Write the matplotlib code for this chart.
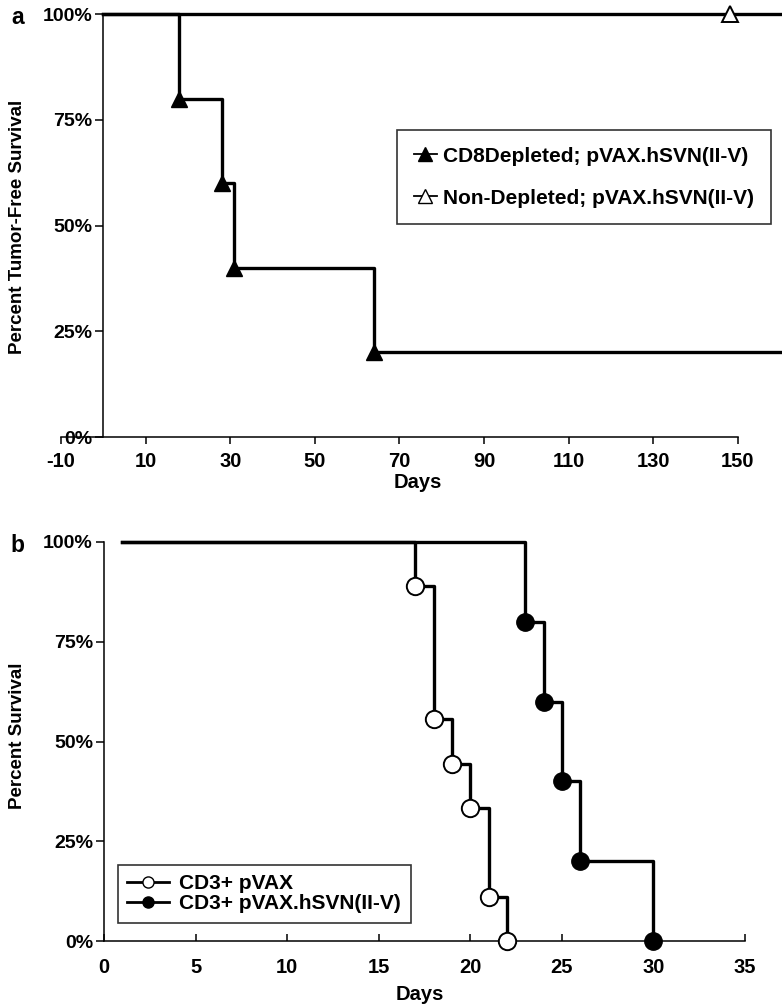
import numpy as np
import matplotlib.pyplot as plt

plt.rcParams['font.family'] = ['Liberation Sans', 'DejaVu Sans']
plt.rcParams['font.weight'] = 'bold'
plt.rcParams['axes.unicode_minus'] = False

# panel a: tumor-free survival
a_days_cd8 = [0, 18, 28, 31, 64, 160]
a_surv_cd8 = [1.0, 0.8, 0.6, 0.4, 0.2, 0.2]
a_mark_cd8 = [18, 28, 31, 64]
a_markv_cd8 = [0.8, 0.6, 0.4, 0.2]
a_days_non = [0, 160]
a_surv_non = [1.0, 1.0]
a_mark_non = [148]
a_markv_non = [1.0]
a_xticks = [-10, 10, 30, 50, 70, 90, 110, 130, 150]

# panel b: survival
b_days_vax = [1, 17, 18, 19, 20, 21, 22]
b_surv_vax = [1.0, 8/9, 5/9, 4/9, 3/9, 1/9, 0.0]
b_days_svn = [1, 23, 24, 25, 26, 30]
b_surv_svn = [1.0, 0.8, 0.6, 0.4, 0.2, 0.0]
b_xticks = [0, 5, 10, 15, 20, 25, 30, 35]

yticks = [0, 0.25, 0.5, 0.75, 1.0]
ylabels = ['0%', '25%', '50%', '75%', '100%']

W, H = 782, 1006
fig = plt.figure(figsize=(W/100, H/100), dpi=100)

lw = 2.4
fs = 14.5

# ---- panel a
ax1 = fig.add_axes([61/W, (H-437)/H, 721/W, 423/H])
ax1.set_xlim(-10, 160.4)
ax1.set_ylim(0, 1)
ax1.step(a_days_non, a_surv_non, where='post', color='black', lw=lw, clip_on=False)
ax1.step(a_days_cd8, a_surv_cd8, where='post', color='black', lw=lw, clip_on=False)
ax1.plot(a_mark_cd8, a_markv_cd8, '^', color='black', ms=12, clip_on=False, zorder=5)
ax1.plot(a_mark_non, a_markv_non, '^', mfc='white', mec='black', mew=1.4, ms=12, clip_on=False, zorder=5)
ax1.spines['top'].set_visible(False)
ax1.spines['right'].set_visible(False)
ax1.spines['left'].set_position(('data', 0))
ax1.spines['bottom'].set_bounds(-10, 150)
ax1.set_xticks(a_xticks)
ax1.set_yticks(yticks)
ax1.set_yticklabels(ylabels)
ax1.tick_params(axis='x', direction='out', length=5, width=1.1, labelsize=fs, pad=6)
ax1.tick_params(axis='y', direction='out', length=6, width=1.1, labelsize=14, pad=2)
for s in ['left', 'bottom']:
    ax1.spines[s].set_linewidth(1.1)
fig.text(418/W, 1-482/H, 'Days', ha='center', va='center', fontsize=fs, fontweight='bold')
fig.text(18/W, 1-227/H, 'Percent Tumor-Free Survival', rotation=90, ha='center', va='center', fontsize=13.5, fontweight='bold')
fig.text(18/W, 1-18/H, 'a', ha='center', va='center', fontsize=16.5, fontweight='bold')

h1, = ax1.plot([], [], '-^', color='black', lw=1.3, ms=10)
h2, = ax1.plot([], [], '-^', color='black', mfc='white', mec='black', lw=1.3, ms=10)
leg1 = ax1.legend([h1, h2], ['CD8Depleted; pVAX.hSVN(II-V)', 'Non-Depleted; pVAX.hSVN(II-V)'],
                  loc='upper left', bbox_to_anchor=((397-61)/721, 1-(130-14)/423),
                  fontsize=15, handlelength=1.1, handletextpad=0.3, labelspacing=1.1,
                  borderpad=0.8, borderaxespad=0, fancybox=False, frameon=True)
leg1.get_frame().set_edgecolor('black')
leg1.get_frame().set_linewidth(1.2)

# ---- panel b
ax2 = fig.add_axes([104/W, (H-941)/H, 641/W, 399/H])
ax2.set_xlim(0, 35)
ax2.set_ylim(0, 1)
ax2.step(b_days_vax, b_surv_vax, where='post', color='black', lw=lw, clip_on=False)
ax2.step(b_days_svn, b_surv_svn, where='post', color='black', lw=lw, clip_on=False)
ax2.plot(b_days_vax[1:], b_surv_vax[1:], 'o', mfc='white', mec='black', mew=1.4, ms=12.5, clip_on=False, zorder=5)
ax2.plot(b_days_svn[1:], b_surv_svn[1:], 'o', color='black', ms=12.5, clip_on=False, zorder=5)
ax2.spines['top'].set_visible(False)
ax2.spines['right'].set_visible(False)
for s in ['left', 'bottom']:
    ax2.spines[s].set_linewidth(1.1)
ax2.set_xticks(b_xticks)
ax2.set_yticks(yticks)
ax2.set_yticklabels(ylabels)
ax2.tick_params(axis='y', direction='out', length=6, width=1.1, labelsize=14, pad=2)
ax2.tick_params(axis='x', direction='in', length=5, width=1.1, labelsize=fs, pad=12)
fig.text(420/W, 1-995/H, 'Days', ha='center', va='center', fontsize=fs, fontweight='bold')
fig.text(18/W, 1-736/H, 'Percent Survival', rotation=90, ha='center', va='center', fontsize=13.5, fontweight='bold')
fig.text(17/W, 1-546/H, 'b', ha='center', va='center', fontsize=16.5, fontweight='bold')

h3, = ax2.plot([], [], '-o', color='black', mfc='white', mec='black', lw=2, ms=8)
h4, = ax2.plot([], [], '-o', color='black', lw=2, ms=8)
leg2 = ax2.legend([h3, h4], ['CD3+ pVAX', 'CD3+ pVAX.hSVN(II-V)'],
                  loc='upper left', bbox_to_anchor=((118-104)/641, (941-865)/399),
                  fontsize=15, handlelength=2.0, handletextpad=0.5, labelspacing=0.05,
                  borderpad=0.45, borderaxespad=0, fancybox=False, frameon=True)
leg2.get_frame().set_edgecolor('black')
leg2.get_frame().set_linewidth(1.2)

fig.savefig('out.png', dpi=100)
